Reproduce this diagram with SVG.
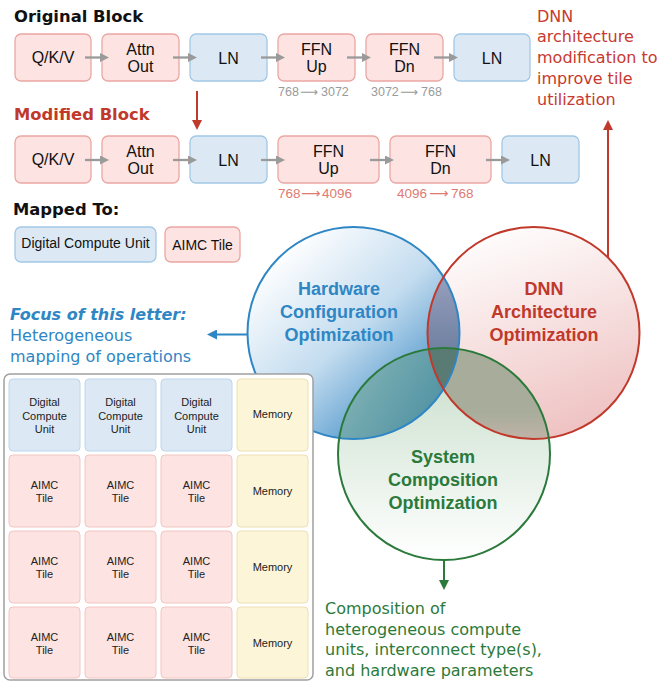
<svg xmlns="http://www.w3.org/2000/svg" width="671" height="682" viewBox="0 0 671 682">
<style>
.bg{fill:#ffffff}
.rbox{fill:#fde3e1;stroke:#eaa7a2;stroke-width:1.3}
.bbox{fill:#dce9f5;stroke:#a2c8e6;stroke-width:1.3}
.lbl{font-family:"Liberation Sans",Arial,sans-serif;font-size:16px;fill:#111;text-anchor:middle}
.dim{font-family:"Liberation Sans","DejaVu Sans",sans-serif;font-size:12.5px;fill:#9a9a9a}
.dimr{font-family:"Liberation Sans","DejaVu Sans",sans-serif;font-size:13.5px;fill:#e07a72}
.arr{font-family:"DejaVu Sans",sans-serif}
.title{font-family:"DejaVu Sans",Verdana,sans-serif;font-weight:bold;font-size:16.4px}
.note{font-family:"DejaVu Sans",Verdana,sans-serif;font-size:16px}
.venn{font-family:"Liberation Sans",Arial,sans-serif;font-weight:bold;font-size:18px;text-anchor:middle}
.map{font-family:"Liberation Sans",Arial,sans-serif;font-size:14px;fill:#111;text-anchor:middle}
.cell{font-family:"Liberation Sans",Arial,sans-serif;font-size:11px;fill:#222;text-anchor:middle}
.cb{fill:#dce9f5;stroke:#bcd6ec;stroke-width:1}
.cr{fill:#fde3e1;stroke:#f2c6c2;stroke-width:1}
.cy{fill:#fdf5d8;stroke:#ece0b2;stroke-width:1}
.ga{stroke:#9a9a9a;stroke-width:2.3;fill:none}
</style>
<defs>
<marker id="hg" markerUnits="userSpaceOnUse" markerWidth="9" markerHeight="9" refX="1.5" refY="4.5" orient="auto"><path d="M0,0 L9,4.5 L0,9 z" fill="#9a9a9a"/></marker>
<marker id="hr" markerUnits="userSpaceOnUse" markerWidth="10" markerHeight="10" refX="1.5" refY="5" orient="auto"><path d="M0,0 L10,5 L0,10 z" fill="#c0392b"/></marker>
<marker id="hb" markerUnits="userSpaceOnUse" markerWidth="10" markerHeight="10" refX="1.5" refY="5" orient="auto"><path d="M0,0 L10,5 L0,10 z" fill="#2f86c4"/></marker>
<marker id="hgr" markerUnits="userSpaceOnUse" markerWidth="10" markerHeight="10" refX="1.5" refY="5" orient="auto"><path d="M0,0 L10,5 L0,10 z" fill="#2b7a3b"/></marker>
<linearGradient id="gB" x1="0.15" y1="0.12" x2="0.85" y2="0.88"><stop offset="0" stop-color="#ffffff"/><stop offset="0.5" stop-color="#c3dcef"/><stop offset="1" stop-color="#3a89c4"/></linearGradient>
<linearGradient id="gR" x1="0.25" y1="0" x2="0.6" y2="1"><stop offset="0" stop-color="#ffffff"/><stop offset="1" stop-color="#efc2c2"/></linearGradient>
<linearGradient id="gG" x1="0" y1="0" x2="0" y2="1"><stop offset="0" stop-color="#c6ddc9"/><stop offset="1" stop-color="#ffffff"/></linearGradient>
<linearGradient id="gBG" x1="0" y1="0" x2="0.8" y2="0.5"><stop offset="0" stop-color="#8cbab8"/><stop offset="1" stop-color="#2a7896"/></linearGradient>
<linearGradient id="gRG" x1="0" y1="0" x2="0" y2="1"><stop offset="0.3" stop-color="#a7ad9a"/><stop offset="0.45" stop-color="#c4b3aa"/></linearGradient>
<linearGradient id="gBR" x1="0" y1="0" x2="0" y2="1"><stop offset="0.1" stop-color="#a4aac8"/><stop offset="0.6" stop-color="#6e7f9f"/></linearGradient>
<clipPath id="cB"><circle cx="353.5" cy="333" r="106"/></clipPath>
<clipPath id="cR"><circle cx="533.5" cy="333" r="106"/></clipPath>
</defs>
<rect class="bg" x="0" y="0" width="671" height="682"/>

<text class="title" x="14" y="22" fill="#111">Original Block</text>
<text class="title" x="14" y="120" fill="#c0392b">Modified Block</text>
<text class="title" x="13" y="215" fill="#111">Mapped To:</text>

<g id="orig-qkv"><rect class="rbox" x="15" y="34" width="76" height="47" rx="6"/><text class="lbl" x="53" y="63">Q/K/V</text></g>
<g id="orig-attn"><rect class="rbox" x="102" y="34" width="77" height="47" rx="6"/><text class="lbl" x="140.5" y="55">Attn</text><text class="lbl" x="140.5" y="72">Out</text></g>
<g id="orig-ln1"><rect class="bbox" x="190" y="34" width="77" height="47" rx="6"/><text class="lbl" x="228.5" y="63.5">LN</text></g>
<g id="orig-ffnup"><rect class="rbox" x="278" y="34" width="77" height="47" rx="6"/><text class="lbl" x="316.5" y="55">FFN</text><text class="lbl" x="316.5" y="72">Up</text><text class="dim" y="96"><tspan x="278">768</tspan><tspan class="arr" x="300">⟶</tspan><tspan x="321">3072</tspan></text></g>
<g id="orig-ffndn"><rect class="rbox" x="366" y="34" width="77" height="47" rx="6"/><text class="lbl" x="404.5" y="55">FFN</text><text class="lbl" x="404.5" y="72">Dn</text><text class="dim" y="96"><tspan x="371">3072</tspan><tspan class="arr" x="400">⟶</tspan><tspan x="421">768</tspan></text></g>
<g id="orig-ln2"><rect class="bbox" x="454" y="34" width="76" height="47" rx="6"/><text class="lbl" x="492" y="63.5">LN</text></g>

<g id="mod-qkv"><rect class="rbox" x="15" y="136" width="76" height="47" rx="6"/><text class="lbl" x="53" y="165">Q/K/V</text></g>
<g id="mod-attn"><rect class="rbox" x="102" y="136" width="77" height="47" rx="6"/><text class="lbl" x="140.5" y="157">Attn</text><text class="lbl" x="140.5" y="174">Out</text></g>
<g id="mod-ln1"><rect class="bbox" x="190" y="136" width="77" height="47" rx="6"/><text class="lbl" x="228.5" y="165.5">LN</text></g>
<g id="mod-ffnup"><rect class="rbox" x="278" y="136" width="101" height="47" rx="6"/><text class="lbl" x="328.5" y="157">FFN</text><text class="lbl" x="328.5" y="174">Up</text><text class="dimr" y="198"><tspan x="278">768</tspan><tspan class="arr" x="301">⟶</tspan><tspan x="322">4096</tspan></text></g>
<g id="mod-ffndn"><rect class="rbox" x="390" y="136" width="101" height="47" rx="6"/><text class="lbl" x="440.5" y="157">FFN</text><text class="lbl" x="440.5" y="174">Dn</text><text class="dimr" y="198"><tspan x="397">4096</tspan><tspan class="arr" x="429">⟶</tspan><tspan x="451">768</tspan></text></g>
<g id="mod-ln2"><rect class="bbox" x="502" y="136" width="77" height="47" rx="6"/><text class="lbl" x="540.5" y="165.5">LN</text></g>

<g id="map-dcu"><rect class="bbox" x="15" y="227" width="141" height="35" rx="6"/><text class="map" x="85.5" y="248">Digital Compute Unit</text></g>
<g id="map-aimc"><rect class="rbox" x="165" y="227" width="75" height="35" rx="6"/><text class="map" x="202.5" y="250">AIMC Tile</text></g>

<g id="note-dnn" class="note" fill="#c8392f">
<text x="537" y="21.7">DNN</text>
<text x="537" y="42.4">architecture</text>
<text x="537" y="63.1">modification to</text>
<text x="537" y="83.8">improve tile</text>
<text x="537" y="104.5">utilization</text>
</g>

<g id="note-focus" fill="#2f86c4">
<text class="note" x="10" y="320" font-weight="bold" font-style="italic">Focus of this letter:</text>
<text class="note" x="10" y="341">Heterogeneous</text>
<text class="note" x="10" y="362">mapping of operations</text>
</g>

<g id="venn">
<g id="venn-hw"><circle cx="353.5" cy="333" r="106" fill="url(#gB)"/></g>
<g id="venn-dnn"><circle cx="533.5" cy="333" r="106" fill="url(#gR)"/></g>
<g id="venn-sys"><circle cx="444" cy="454" r="106" fill="url(#gG)"/></g>
<circle cx="444" cy="454" r="106" fill="url(#gBG)" clip-path="url(#cB)"/>
<circle cx="444" cy="454" r="106" fill="url(#gRG)" clip-path="url(#cR)"/>
<circle cx="533.5" cy="333" r="106" fill="url(#gBR)" clip-path="url(#cB)"/>
<g clip-path="url(#cB)"><circle cx="444" cy="454" r="106" fill="#5a7a74" clip-path="url(#cR)"/></g>
<circle cx="353.5" cy="333" r="106" fill="none" stroke="#2f86c4" stroke-width="2"/>
<circle cx="533.5" cy="333" r="106" fill="none" stroke="#c0392b" stroke-width="2"/>
<circle cx="444" cy="454" r="106" fill="none" stroke="#2b7a3b" stroke-width="2"/>
<text class="venn" fill="#2f86c4" x="339" y="294.5">Hardware</text>
<text class="venn" fill="#2f86c4" x="339" y="317.5">Configuration</text>
<text class="venn" fill="#2f86c4" x="339" y="340.5">Optimization</text>
<text class="venn" fill="#c0392b" x="544" y="294.5">DNN</text>
<text class="venn" fill="#c0392b" x="544" y="317.5">Architecture</text>
<text class="venn" fill="#c0392b" x="544" y="340.5">Optimization</text>
<text class="venn" fill="#2b7a3b" x="443" y="463">System</text>
<text class="venn" fill="#2b7a3b" x="443" y="486">Composition</text>
<text class="venn" fill="#2b7a3b" x="443" y="509">Optimization</text>
</g>

<g id="note-sys" class="note" fill="#2b7a3b">
<text x="325" y="614">Composition of</text>
<text x="325" y="634.5">heterogeneous compute</text>
<text x="325" y="655">units, interconnect type(s),</text>
<text x="325" y="675.5">and hardware parameters</text>
</g>

<g id="grid">
<rect x="4" y="374" width="309" height="306" rx="6" fill="#ffffff" stroke="#a0a0a0" stroke-width="1.5"/>
<g id="g-r1c1"><rect class="cb" x="9" y="379" width="71" height="72" rx="4"/><text class="cell" x="44.5" y="406">Digital</text><text class="cell" x="44.5" y="419.5">Compute</text><text class="cell" x="44.5" y="433">Unit</text></g>
<g id="g-r1c2"><rect class="cb" x="85" y="379" width="71" height="72" rx="4"/><text class="cell" x="120.5" y="406">Digital</text><text class="cell" x="120.5" y="419.5">Compute</text><text class="cell" x="120.5" y="433">Unit</text></g>
<g id="g-r1c3"><rect class="cb" x="161" y="379" width="71" height="72" rx="4"/><text class="cell" x="196.5" y="406">Digital</text><text class="cell" x="196.5" y="419.5">Compute</text><text class="cell" x="196.5" y="433">Unit</text></g>
<g id="g-r1c4"><rect class="cy" x="237" y="379" width="71" height="72" rx="4"/><text class="cell" x="272.5" y="418">Memory</text></g>
<g id="g-r2c1"><rect class="cr" x="9" y="455" width="71" height="72" rx="4"/><text class="cell" x="44.5" y="489">AIMC</text><text class="cell" x="44.5" y="502">Tile</text></g>
<g id="g-r2c2"><rect class="cr" x="85" y="455" width="71" height="72" rx="4"/><text class="cell" x="120.5" y="489">AIMC</text><text class="cell" x="120.5" y="502">Tile</text></g>
<g id="g-r2c3"><rect class="cr" x="161" y="455" width="71" height="72" rx="4"/><text class="cell" x="196.5" y="489">AIMC</text><text class="cell" x="196.5" y="502">Tile</text></g>
<g id="g-r2c4"><rect class="cy" x="237" y="455" width="71" height="72" rx="4"/><text class="cell" x="272.5" y="494.5">Memory</text></g>
<g id="g-r3c1"><rect class="cr" x="9" y="531" width="71" height="72" rx="4"/><text class="cell" x="44.5" y="565">AIMC</text><text class="cell" x="44.5" y="578">Tile</text></g>
<g id="g-r3c2"><rect class="cr" x="85" y="531" width="71" height="72" rx="4"/><text class="cell" x="120.5" y="565">AIMC</text><text class="cell" x="120.5" y="578">Tile</text></g>
<g id="g-r3c3"><rect class="cr" x="161" y="531" width="71" height="72" rx="4"/><text class="cell" x="196.5" y="565">AIMC</text><text class="cell" x="196.5" y="578">Tile</text></g>
<g id="g-r3c4"><rect class="cy" x="237" y="531" width="71" height="72" rx="4"/><text class="cell" x="272.5" y="570.5">Memory</text></g>
<g id="g-r4c1"><rect class="cr" x="9" y="607" width="71" height="71" rx="4"/><text class="cell" x="44.5" y="641">AIMC</text><text class="cell" x="44.5" y="654">Tile</text></g>
<g id="g-r4c2"><rect class="cr" x="85" y="607" width="71" height="71" rx="4"/><text class="cell" x="120.5" y="641">AIMC</text><text class="cell" x="120.5" y="654">Tile</text></g>
<g id="g-r4c3"><rect class="cr" x="161" y="607" width="71" height="71" rx="4"/><text class="cell" x="196.5" y="641">AIMC</text><text class="cell" x="196.5" y="654">Tile</text></g>
<g id="g-r4c4"><rect class="cy" x="237" y="607" width="71" height="71" rx="4"/><text class="cell" x="272.5" y="646.5">Memory</text></g>
</g>

<g id="connectors">
<line class="ga" x1="85" y1="57.5" x2="101.5" y2="57.5" marker-end="url(#hg)"/>
<line class="ga" x1="173" y1="57.5" x2="189.5" y2="57.5" marker-end="url(#hg)"/>
<line class="ga" x1="261" y1="57.5" x2="277.5" y2="57.5" marker-end="url(#hg)"/>
<line class="ga" x1="347" y1="57.5" x2="363.5" y2="57.5" marker-end="url(#hg)"/>
<line class="ga" x1="434" y1="57.5" x2="450.5" y2="57.5" marker-end="url(#hg)"/>
<line class="ga" x1="85" y1="160" x2="101.5" y2="160" marker-end="url(#hg)"/>
<line class="ga" x1="173" y1="160" x2="189.5" y2="160" marker-end="url(#hg)"/>
<line class="ga" x1="261" y1="160" x2="277.5" y2="160" marker-end="url(#hg)"/>
<line class="ga" x1="370" y1="160" x2="386.5" y2="160" marker-end="url(#hg)"/>
<line class="ga" x1="486" y1="160" x2="502.5" y2="160" marker-end="url(#hg)"/>
<line x1="197" y1="91" x2="197" y2="121.5" stroke="#c0392b" stroke-width="2" marker-end="url(#hr)"/>
<line x1="608" y1="258" x2="608" y2="128.5" stroke="#c0392b" stroke-width="2" marker-end="url(#hr)"/>
<line x1="248" y1="334.5" x2="215.5" y2="334.5" stroke="#2f86c4" stroke-width="2" marker-end="url(#hb)"/>
<line x1="444" y1="560" x2="444" y2="581.5" stroke="#2b7a3b" stroke-width="2" marker-end="url(#hgr)"/>
</g>
</svg>
